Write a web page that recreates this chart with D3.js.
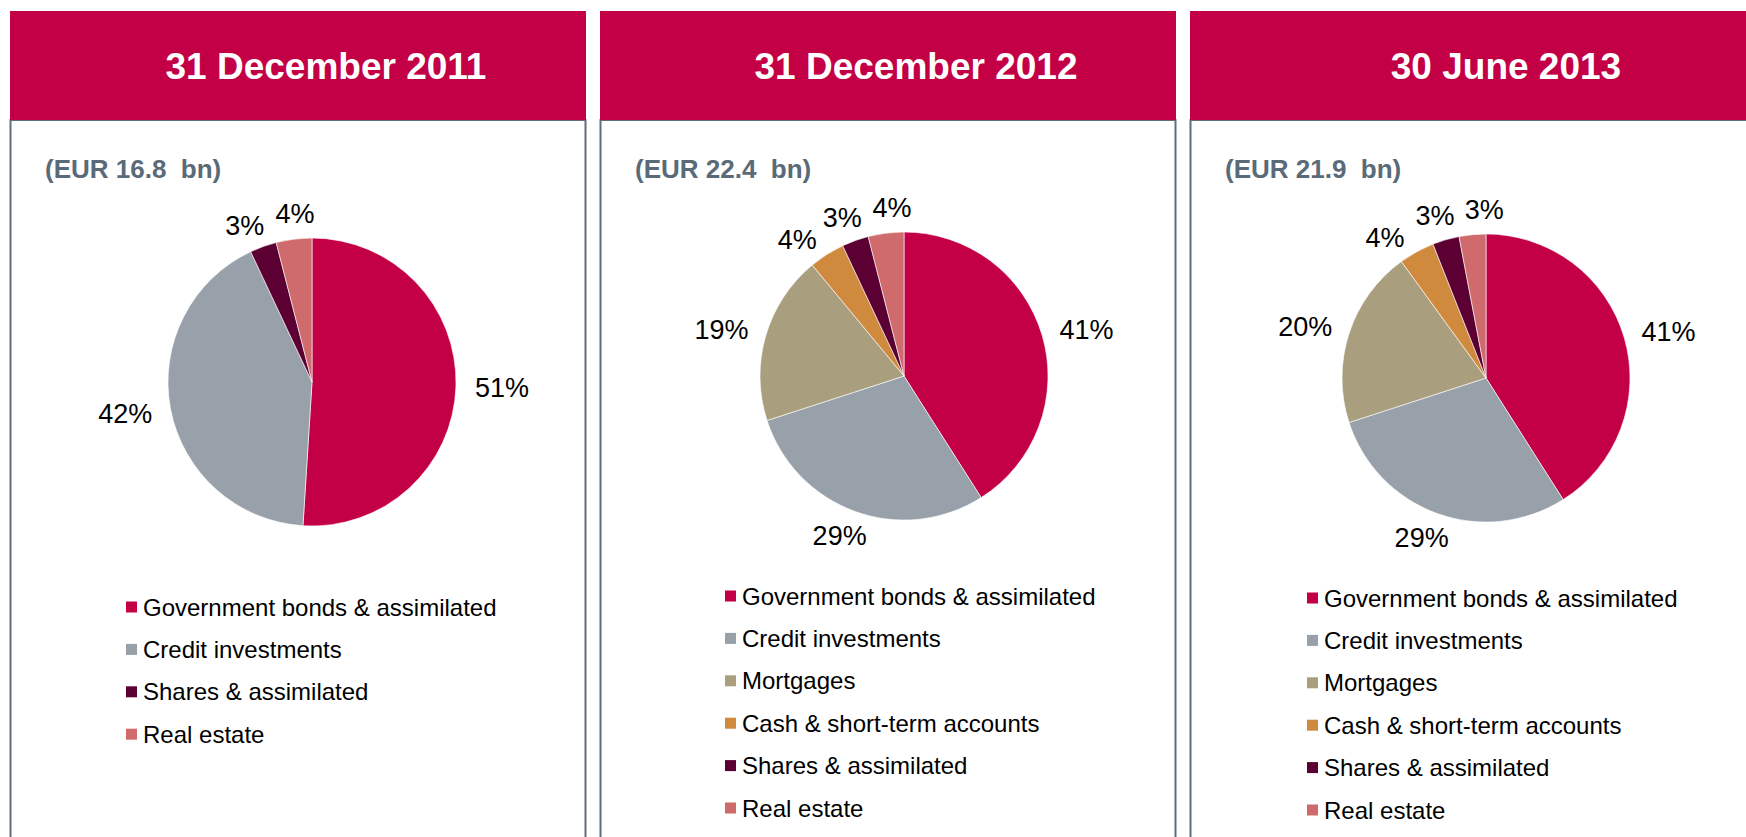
<!DOCTYPE html>
<html>
<head>
<meta charset="utf-8">
<script src="https://cdn.jsdelivr.net/npm/d3@7"></script>
<style>
  html, body { margin: 0; padding: 0; background: #ffffff; overflow: hidden; }
  svg { display: block; font-family: "Liberation Sans", Arial, sans-serif; }
</style>
</head>
<body>
<svg id="chart" width="1746" height="837"></svg>
<script>
// ---------- DATA ----------
const panelTitles = ["31 December 2011", "31 December 2012", "30 June 2013"];
const panelTotals = ["(EUR 16.8  bn)", "(EUR 22.4  bn)", "(EUR 21.9  bn)"];

const categories2011 = ["Government bonds & assimilated", "Credit investments", "Shares & assimilated", "Real estate"];
const values2011 = [51, 42, 3, 4];

const categories2012 = ["Government bonds & assimilated", "Credit investments", "Mortgages", "Cash & short-term accounts", "Shares & assimilated", "Real estate"];
const values2012 = [41, 29, 19, 4, 3, 4];

const categories2013 = ["Government bonds & assimilated", "Credit investments", "Mortgages", "Cash & short-term accounts", "Shares & assimilated", "Real estate"];
const values2013 = [41, 29, 20, 4, 3, 3];

const categoryColors = {
  "Government bonds & assimilated": "#c30045",
  "Credit investments": "#98a0aa",
  "Mortgages": "#a99f7e",
  "Cash & short-term accounts": "#d08a3e",
  "Shares & assimilated": "#5c0033",
  "Real estate": "#cf6b6c"
};

// ---------- LAYOUT ----------
const panels = [
  { x: 10,   cx: 302, cy: 382, legendX: 116, legendY: 607, cats: categories2011, vals: values2011 },
  { x: 600,  cx: 304, cy: 376, legendX: 125, legendY: 596, cats: categories2012, vals: values2012 },
  { x: 1190, cx: 296, cy: 378, legendX: 117, legendY: 598, cats: categories2013, vals: values2013 }
];
const panelW = 576, headerTop = 11, headerBottom = 120;
const radius = 144, labelGap = 19, legendStep = 42.4, markerSize = 11;
const labelFont = 27, labelH = 20, labelVOffset = 6;
const headerColor = "#c30045", borderColor = "#5f6d7b", subColor = "#596a79";

const svg = d3.select("#chart");

panels.forEach((p, i) => {
  const g = svg.append("g").attr("transform", `translate(${p.x},0)`);

  // panel body border
  g.append("rect")
    .attr("x", 0.5).attr("y", headerBottom)
    .attr("width", panelW - 1).attr("height", 900)
    .attr("fill", "#fff").attr("stroke", borderColor).attr("stroke-width", 2);

  // header
  g.append("rect")
    .attr("x", 0).attr("y", headerTop)
    .attr("width", panelW).attr("height", headerBottom - headerTop)
    .attr("fill", headerColor);

  g.append("text")
    .attr("x", 316).attr("y", 66)
    .attr("dy", "0.36em")
    .attr("text-anchor", "middle")
    .attr("fill", "#fff")
    .attr("font-weight", "bold")
    .attr("font-size", 37)
    .text(panelTitles[i]);

  // subtitle
  g.append("text")
    .attr("x", 35).attr("y", 169)
    .attr("dy", "0.36em")
    .attr("fill", subColor)
    .attr("font-weight", "bold")
    .attr("font-size", 26)
    .style("white-space", "pre")
    .text(panelTotals[i]);

  // pie
  const data = p.cats.map((c, k) => ({ cat: c, v: p.vals[k] }));
  const pie = d3.pie().sort(null).value(d => d.v).startAngle(0).endAngle(2 * Math.PI);
  const arc = d3.arc().innerRadius(0).outerRadius(radius);
  const arcs = pie(data);

  const pg = g.append("g").attr("transform", `translate(${p.cx},${p.cy})`);
  pg.selectAll("path").data(arcs).join("path")
    .attr("d", arc)
    .attr("fill", d => categoryColors[d.data.cat])
    .attr("stroke", "#ffffff")
    .attr("stroke-width", 0.6);

  // labels (outside end, with simple overlap relaxation)
  const labels = pg.selectAll("text.lbl").data(arcs).join("text")
    .attr("class", "lbl")
    .attr("text-anchor", "middle")
    .attr("dy", "0.36em")
    .attr("font-size", labelFont)
    .attr("fill", "#000")
    .text(d => d.data.v + "%");

  const L = [];
  labels.each(function(d) {
    L.push({ node: this, a: (d.startAngle + d.endAngle) / 2, w: this.getComputedTextLength() });
  });
  const place = l => {
    const ux = Math.sin(l.a), uy = -Math.cos(l.a);
    l.x = (radius + labelGap) * ux + (l.w / 2) * ux;
    l.y = (radius + labelGap) * uy + labelVOffset * uy;
  };
  L.forEach(place);
  const pad = 10;
  for (let it = 0; it < 400; it++) {
    let moved = false;
    for (let k = 0; k < L.length; k++) {
      const A = L[k], B = L[(k + 1) % L.length];
      const ox = (A.w + B.w) / 2 + pad - Math.abs(A.x - B.x);
      const oy = labelH + 2 - Math.abs(A.y - B.y);
      if (ox > 0 && oy > 0) {
        A.a -= 0.004; B.a += 0.004;
        place(A); place(B);
        moved = true;
      }
    }
    if (!moved) break;
  }
  L.forEach(l => d3.select(l.node).attr("x", l.x).attr("y", l.y));

  // legend
  const lg = g.append("g").attr("transform", `translate(${p.legendX},${p.legendY})`);
  const items = lg.selectAll("g").data(p.cats).join("g")
    .attr("transform", (d, k) => `translate(0,${k * legendStep})`);
  items.append("rect")
    .attr("x", 0).attr("y", -markerSize / 2)
    .attr("width", markerSize).attr("height", markerSize)
    .attr("fill", d => categoryColors[d]);
  items.append("text")
    .attr("x", markerSize + 6).attr("y", 0)
    .attr("dy", "0.36em")
    .attr("font-size", 24)
    .attr("fill", "#000")
    .text(d => d);
});
</script>
</body>
</html>
